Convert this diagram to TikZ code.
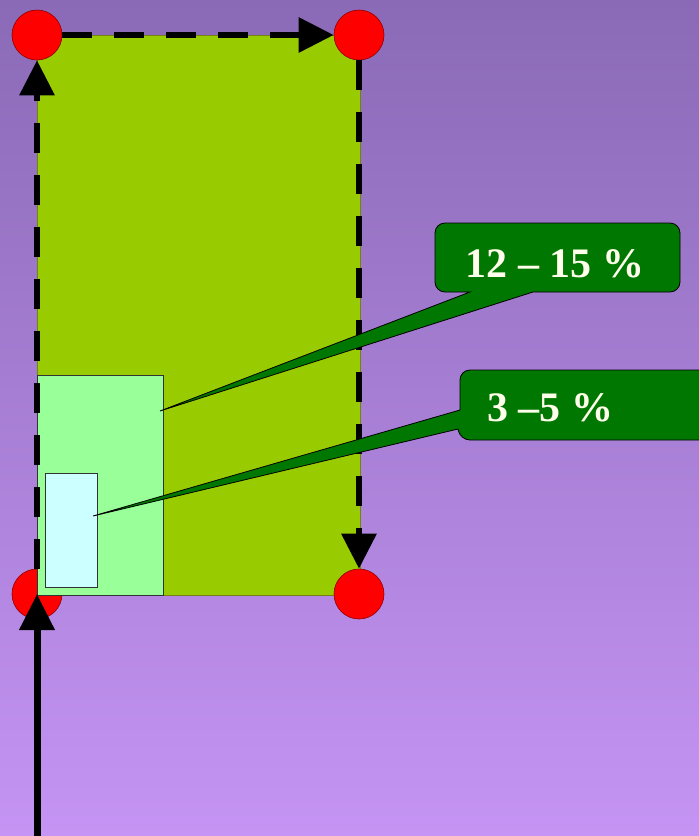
\documentclass[tikz,border=0pt]{standalone}
\usepackage{fontspec}
\setmainfont{Liberation Serif}
\usetikzlibrary{arrows.meta,calc}
\definecolor{bgtop}{RGB}{138,106,182}
\definecolor{bgbot}{RGB}{197,148,244}
\definecolor{limefill}{RGB}{153,204,0}
\definecolor{limeedge}{RGB}{120,130,20}
\definecolor{lightgreen}{RGB}{153,255,153}
\definecolor{lightcyan}{RGB}{204,255,255}
\definecolor{callgreen}{RGB}{0,119,0}
\definecolor{txt}{RGB}{255,255,235}
\begin{document}
\begin{tikzpicture}[x=1pt,y=-1pt,
  dot/.style={circle,minimum size=50pt,inner sep=0pt,fill=red,draw=red!55!black,line width=0.6pt},
  box/.style={rectangle,inner sep=0pt,draw=black!80,line width=0.7pt},
  dasharrow/.style={line width=6pt,dash pattern=on 30pt off 22pt,-{Triangle[length=35pt,width=34pt]}},
  solidarrow/.style={line width=7pt,-{Triangle[length=36pt,width=34pt]}},
  calloutbox/.style={fill=callgreen,draw=black,line width=0.8pt},
  calltext/.style={text=txt,font=\bfseries\fontsize{42}{50}\selectfont,inner sep=0pt}]
\useasboundingbox (0,0) rectangle (699,836);
\clip (0,0) rectangle (699,836);
\shade[top color=bgtop,bottom color=bgbot] (0,0) rectangle (699,836);
% field
\node[box,fill=limefill,draw=limeedge,minimum width=323pt,minimum height=560pt] (field) at (198.5,315) {};
% corner dots
\node[dot] (tl) at (37,35) {};
\node[dot] (tr) at (359,35) {};
\node[dot] (bl) at (37,594) {};
\node[dot] (br) at (359,594) {};
% inner rectangles
\node[box,fill=lightgreen,minimum width=126pt,minimum height=220pt] (light) at (100,485) {};
\node[box,fill=lightcyan,minimum width=52pt,minimum height=114pt] (small) at (71,530) {};
% arrows
\draw[dasharrow] (bl) -- (tl);
\draw[dasharrow] (tl) -- (tr);
\draw[dasharrow] (tr) -- (br);
\coordinate (start) at (37,840);
\draw[solidarrow] (start) -- (bl.center);
% callouts
\coordinate (tip1) at (160,411);
\coordinate (tip2) at (93,516);
\draw[calloutbox] (470,292) -- (tip1) -- (533,292) [rounded corners=10pt] -- (680,292) -- (680,223) -- (435,223) -- (435,292) [sharp corners] -- cycle;
\draw[calloutbox] (460,410) -- (tip2) -- (458,429) [rounded corners=10pt] -- (460,440) -- (720,440) -- (720,370) -- (460,370) [sharp corners] -- cycle;
\node[calltext] (t1) at (555,264) {12 – 15 \%};
\node[calltext] (t2) at (550,408) {3 –5 \%};
\end{tikzpicture}
\end{document}
